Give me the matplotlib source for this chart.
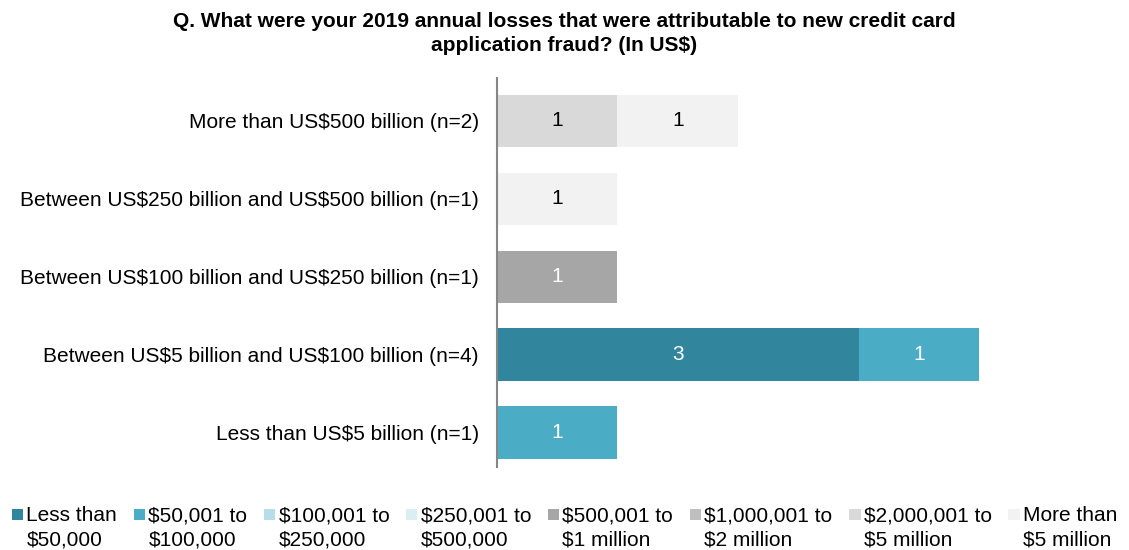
import numpy as np
import matplotlib.pyplot as plt
from matplotlib.patches import Rectangle
from matplotlib.legend_handler import HandlerPatch

plt.rcParams['font.family'] = ['Liberation Sans', 'DejaVu Sans']
plt.rcParams['text.parse_math'] = False

# Respondent groups, listed top to bottom
groups = [
    "More than US$500 billion (n=2)",
    "Between US$250 billion and US$500 billion (n=1)",
    "Between US$100 billion and US$250 billion (n=1)",
    "Between US$5 billion and US$100 billion (n=4)",
    "Less than US$5 billion (n=1)",
]

loss_bands = [
    "Less than\n$50,000",
    "$50,001 to\n$100,000",
    "$100,001 to\n$250,000",
    "$250,001 to\n$500,000",
    "$500,001 to\n$1 million",
    "$1,000,001 to\n$2 million",
    "$2,000,001 to\n$5 million",
    "More than\n$5 million",
]

# counts per loss band, one value per group (same order as groups)
lt_50k = [0, 0, 0, 3, 0]
k50_100k = [0, 0, 0, 1, 1]
k100_250k = [0, 0, 0, 0, 0]
k250_500k = [0, 0, 0, 0, 0]
k500_1m = [0, 0, 1, 0, 0]
m1_2m = [0, 0, 0, 0, 0]
m2_5m = [1, 0, 0, 0, 0]
gt_5m = [1, 1, 0, 0, 0]

series = [lt_50k, k50_100k, k100_250k, k250_500k, k500_1m, m1_2m, m2_5m, gt_5m]
colors = ["#31859C", "#4BACC6", "#B7DEE8", "#DAEEF3",
          "#A6A6A6", "#BFBFBF", "#D9D9D9", "#F2F2F2"]
text_colors = ["white", "white", "black", "black",
               "white", "black", "black", "black"]

FS = 15


# legend swatch sitting next to the first line of a two-line label
def top_square(legend, orig_handle, xdescent, ydescent, width, height, fontsize):
    side = 0.55 * fontsize
    return Rectangle((-xdescent, -ydescent + height - side + 0.05 * fontsize),
                     side, side)


fig = plt.figure(figsize=(11.29, 5.5), dpi=100)
ax = fig.add_axes([0.440, 0.150, 0.545, 0.708])

y = np.arange(len(groups))
left = np.zeros(len(groups))
swatches = []
for vals, col, tc in zip(series, colors, text_colors):
    vals = np.array(vals, dtype=float)
    ax.barh(y, vals, left=left, height=0.67, color=col)
    swatches.append(Rectangle((0, 0), 1, 1, facecolor=col, edgecolor="none"))
    for yi, v, l in zip(y, vals, left):
        if v > 0:
            ax.text(l + v / 2, yi, f"{int(v)}", ha="center", va="center",
                    fontsize=FS, color=tc)
    left += vals

ax.set_xlim(0, 5.1)
ax.set_ylim(4.45, -0.55)
ax.set_yticks(y)
ax.set_yticklabels(groups, fontsize=FS)
ax.set_xticks([])
ax.tick_params(axis="y", length=0, pad=13)
for side in ["top", "right", "bottom"]:
    ax.spines[side].set_visible(False)
ax.spines["left"].set_color("#868686")
ax.spines["left"].set_linewidth(1.5)

fig.text(0.5, 0.978,
         "Q. What were your 2019 annual losses that were attributable to new credit card\napplication fraud? (In US$)",
         ha="center", va="top", fontsize=FS, fontweight="bold", linespacing=1.3)

leg = fig.legend(handles=swatches, labels=loss_bands, loc="lower center",
                 bbox_to_anchor=(0.5, -0.033), ncol=8, frameon=False, fontsize=FS,
                 handlelength=0.55, handleheight=2.4, handletextpad=0.15,
                 columnspacing=0.8, labelspacing=0.2,
                 handler_map={Rectangle: HandlerPatch(patch_func=top_square)})
for t in leg.get_texts():
    t.set_linespacing(1.35)

fig.savefig("out.png", dpi=100)
